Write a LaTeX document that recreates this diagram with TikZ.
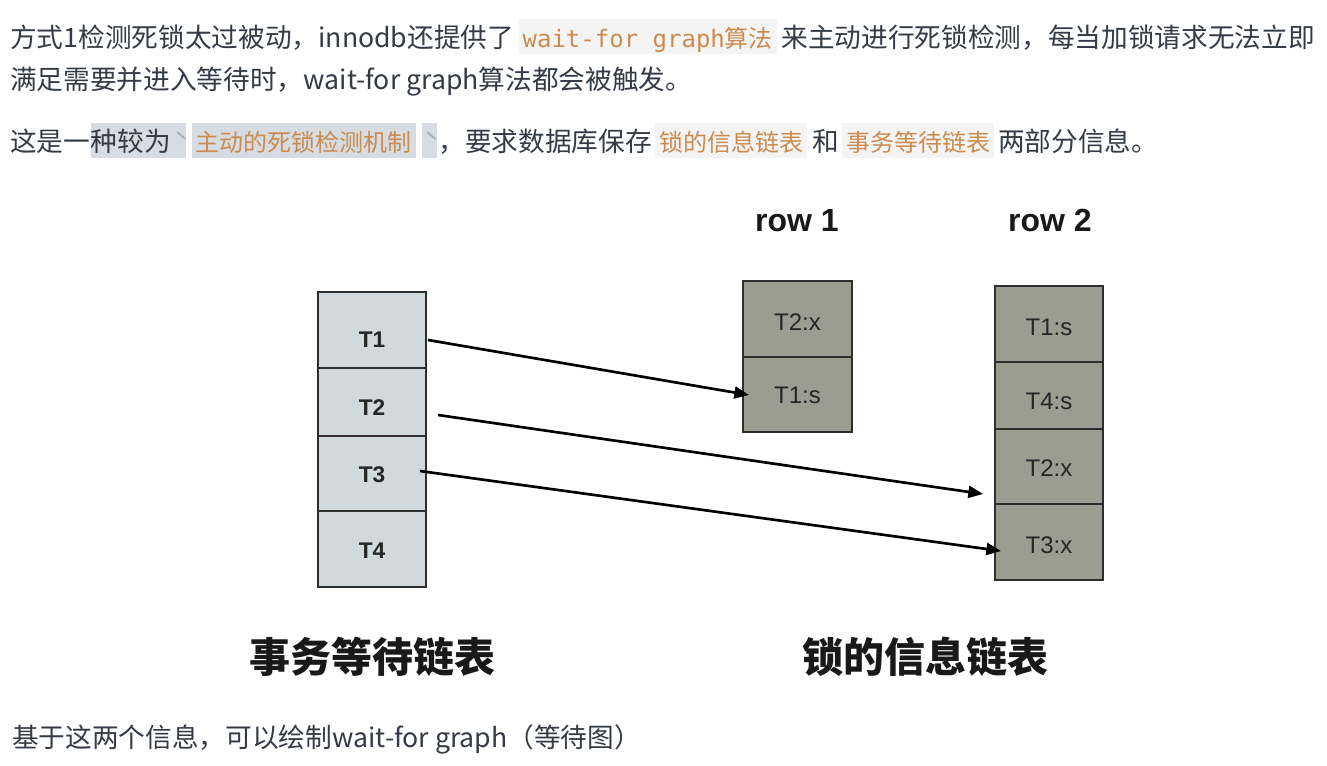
\documentclass[tikz,border=0pt]{standalone}
\usepackage{fontspec}
\setmainfont{Liberation Sans}
\newfontfamily\cjk{Noto Sans CJK SC}
\newfontfamily\mono{DejaVu Sans Mono}
\usetikzlibrary{arrows.meta}
\definecolor{txt}{HTML}{353B45}
\definecolor{org}{HTML}{CB8B4F}
\definecolor{codebg}{HTML}{F4F4F5}
\definecolor{selbg}{HTML}{D6DCE2}
\definecolor{tickc}{HTML}{A8AEB5}
\definecolor{lfill}{HTML}{D1D9DC}
\definecolor{rfill}{HTML}{9B9D90}
\definecolor{edge}{HTML}{2E2E2E}
\tikzset{
  body/.style={font=\cjk\fontsize{20}{24}\selectfont, text=txt, inner sep=0pt, anchor=base west},
  codebox/.style={font=\cjk\fontsize{18}{22}\selectfont, text=org, fill=codebg, inner xsep=3pt, inner ysep=0pt, text height=21.75pt, text depth=4.5pt, anchor=base west},
  selbox/.style={codebox, fill=selbg},
  tickbox/.style={selbox, text=tickc, inner xsep=2pt, text width=7pt, align=center},
  lcell/.style={draw=edge, line width=1.4pt, fill=lfill, inner sep=0pt, minimum width=81pt},
  rcell/.style={draw=edge, line width=1.4pt, fill=rfill, inner sep=0pt, minimum width=81.5pt},
  clabel/.style={font=\fontsize{18}{22}\selectfont, text=black!85, inner sep=0pt},
  tlabel/.style={font=\bfseries\fontsize{17}{20}\selectfont, text=black!85, inner sep=0pt},
  rowlabel/.style={font=\bfseries\fontsize{24}{28}\selectfont, text=black!90, inner sep=0pt, anchor=base},
  biglabel/.style={font=\cjk\bfseries\fontsize{30.75}{36}\selectfont, text=black!90, inner sep=0pt},
  conn/.style={line width=2pt, -{Triangle[length=11pt,width=9pt]}},
}
\begin{document}
\begin{tikzpicture}[x=0.75pt,y=-0.75pt]
\fill[white] (0,0) rectangle (1327,766);
\useasboundingbox (0,0) rectangle (1327,766);

% ---- text lines ----
\node[body] (l1a) at (10,48) {方式1检测死锁太过被动，innodb还提供了};
\node[codebox, xshift=3pt] (l1b) at (l1a.base east) {{\mono\fontsize{18}{22}\selectfont wait-for graph}算法};
\node[body, xshift=3pt] (l1c) at (l1b.base east) {来主动进行死锁检测，每当加锁请求无法立即};

\node[body] (l2) at (10,90) {满足需要并进入等待时，wait-for graph算法都会被触发。};

\node[body] (l3a) at (10,152) {这是一};
\node[body, fill=selbg, text height=21.75pt, text depth=4.5pt] (l3b) at (l3a.base east) {种较为};
\node[tickbox] (l3c) at (l3b.base east) {ˋ};
\node[selbox, xshift=3.75pt] (l3d) at (l3c.base east) {主动的死锁检测机制};
\node[tickbox, xshift=4.5pt] (l3e) at (l3d.base east) {ˋ};
\node[body, xshift=1pt] (l3f) at (l3e.base east) {，要求数据库保存};
\node[codebox, xshift=2pt] (l3g) at (l3f.base east) {锁的信息链表};
\node[body, xshift=3.5pt] (l3h) at (l3g.base east) {和};
\node[codebox, xshift=2pt] (l3i) at (l3h.base east) {事务等待链表};
\node[body, xshift=2.5pt] (l3j) at (l3i.base east) {两部分信息。};

\node[body] (l4) at (12,747) {基于这两个信息，可以绘制wait-for graph（等待图）};

% ---- left column ----
\node[lcell, minimum height=57pt] (c1) at (372,330) {};
\node[lcell, minimum height=51pt] (c2) at (372,402) {};
\node[lcell, minimum height=56.25pt] (c3) at (372,473.5) {};
\node[lcell, minimum height=57pt] (c4) at (372,549) {};
\node[tlabel] (t1) at (372,340) {T1};
\node[tlabel] (t2) at (372,408) {T2};
\node[tlabel] (t3) at (372,475) {T3};
\node[tlabel] (t4) at (372,551) {T4};

% ---- row 1 ----
\node[rowlabel] (row1) at (797,232) {row 1};
\node[rcell, minimum height=57pt] (r1a) at (797.5,319) {};
\node[rcell, minimum height=56.25pt] (r1b) at (797.5,394.5) {};
\node[clabel] (r1at) at (797.5,322) {T2:x};
\node[clabel] (r1bt) at (797.5,395) {T1:s};

% ---- row 2 ----
\node[rowlabel] (row2) at (1050,232) {row 2};
\node[rcell, minimum height=57pt] (r2a) at (1049,324) {};
\node[rcell, minimum height=50.25pt] (r2b) at (1049,395.5) {};
\node[rcell, minimum height=56.25pt] (r2c) at (1049,466.5) {};
\node[rcell, minimum height=57pt] (r2d) at (1049,542) {};
\node[clabel] (r2at) at (1049,327) {T1:s};
\node[clabel] (r2bt) at (1049,401) {T4:s};
\node[clabel] (r2ct) at (1049,468) {T2:x};
\node[clabel] (r2dt) at (1049,545) {T3:x};

% ---- bottom labels ----
\node[biglabel] (lab1) at (372,657) {事务等待链表};
\node[biglabel] (lab2) at (925,657) {锁的信息链表};

% ---- arrows ----
\coordinate (a1s) at (428,340);
\coordinate (a1e) at (749,395);
\coordinate (a2s) at (438,415);
\coordinate (a2e) at (983,494);
\coordinate (a3s) at (420,471);
\coordinate (a3e) at (1001,551);
\draw[conn] (a1s) -- (a1e);
\draw[conn] (a2s) -- (a2e);
\draw[conn] (a3s) -- (a3e);
\end{tikzpicture}
\end{document}
